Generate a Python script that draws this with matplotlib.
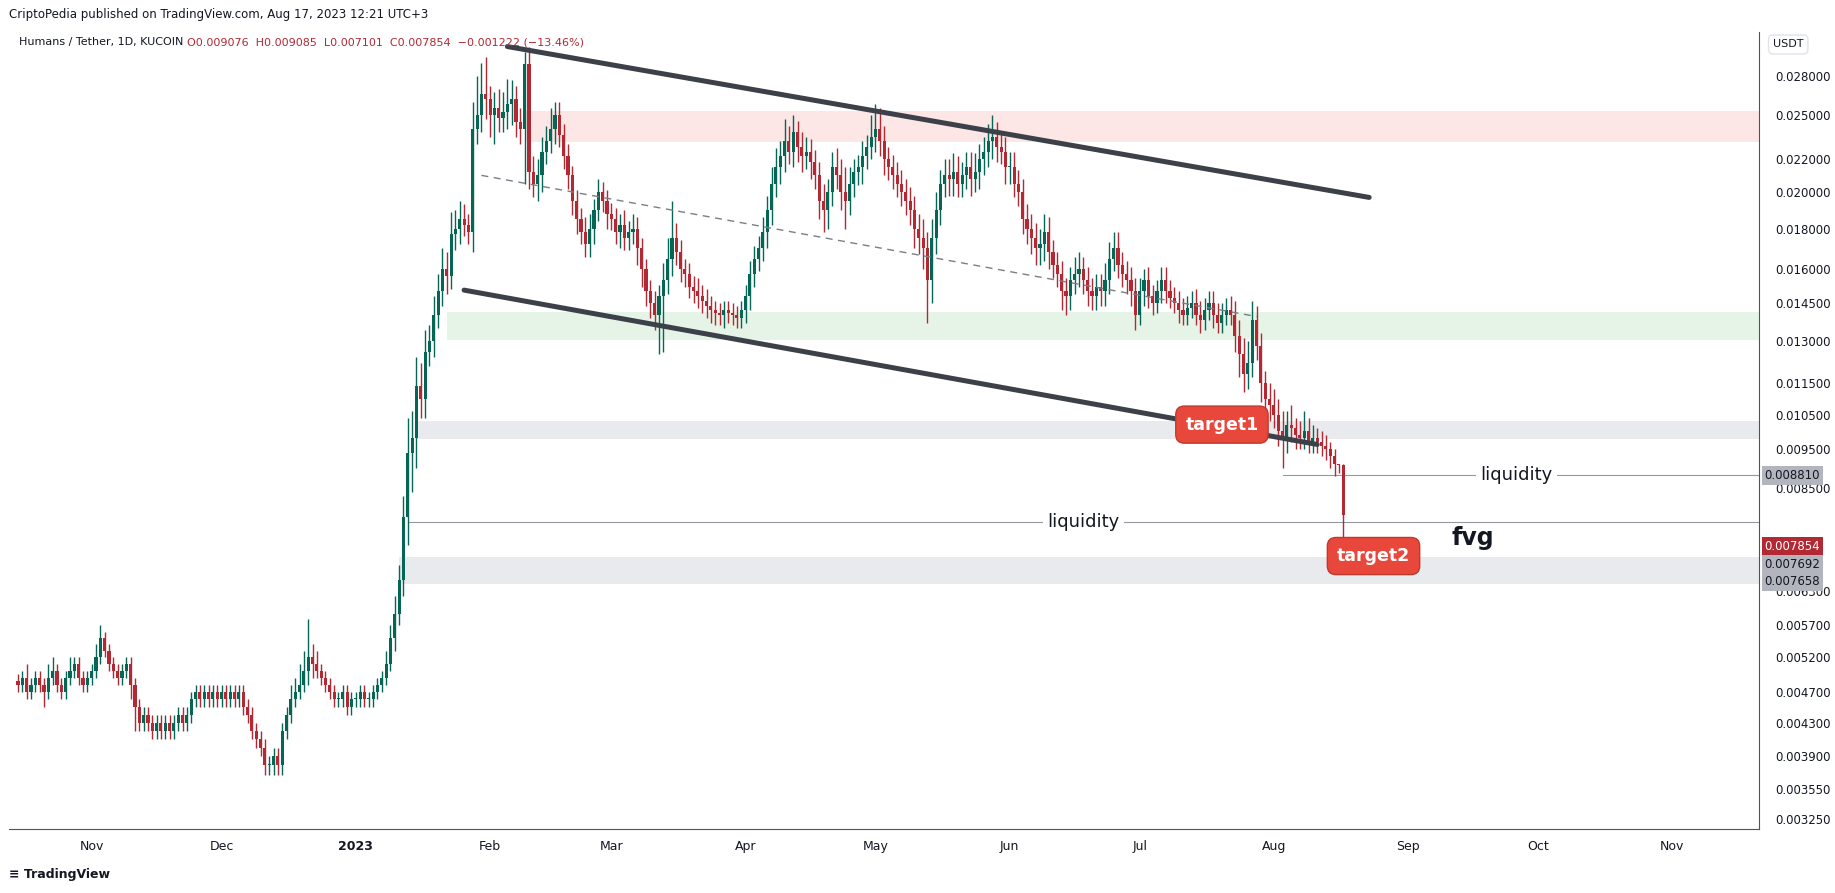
import numpy as np
import pandas as pd
import matplotlib
matplotlib.use("Agg")
import matplotlib.pyplot as plt
import matplotlib.dates as mdates

# daily closes, in units of 1e-4 USDT, one list per month
close_months = [
    [48, 49, 47, 48, 49, 48, 47, 49, 50, 48, 47, 49, 50, 51, 49, 48, 49],
    [50, 52, 55, 53, 51, 50, 49, 50, 51, 48, 45, 43, 44, 43, 42, 43, 42, 43, 42, 43, 44, 43, 44, 46, 47, 46, 47, 46, 47, 46],
    [47, 46, 47, 46, 47, 45, 44, 42, 41, 40, 38, 38, 39, 38, 42, 44, 46, 47, 48, 50, 52, 51, 50, 49, 48, 47, 46, 46, 47, 45, 46],
    [46, 47, 46, 46, 47, 48, 49, 51, 55, 59, 65, 78, 94, 98, 114, 110, 126, 130, 140, 150, 160, 157, 177, 180, 185, 182, 178, 240, 250, 266, 262],
    [250, 255, 248, 252, 258, 262, 245, 240, 290, 212, 205, 210, 225, 232, 240, 250, 236, 222, 210, 195, 185, 178, 172, 180, 190, 200, 195, 188],
    [185, 178, 182, 175, 178, 180, 170, 160, 150, 145, 140, 148, 155, 165, 175, 168, 160, 158, 152, 150, 148, 146, 144, 142, 141, 140, 142, 141, 140, 139, 142],
    [148, 158, 165, 170, 178, 190, 205, 215, 222, 232, 225, 238, 228, 222, 225, 218, 210, 195, 190, 200, 215, 210, 200, 195, 205, 212, 215, 222, 228, 235],
    [240, 232, 220, 215, 210, 205, 200, 195, 190, 180, 175, 170, 155, 175, 190, 205, 210, 208, 212, 205, 210, 215, 208, 212, 220, 225, 232, 235, 228, 225, 215],
    [215, 205, 200, 185, 180, 175, 170, 172, 178, 168, 162, 158, 150, 148, 155, 158, 160, 155, 150, 148, 152, 150, 155, 165, 170, 162, 158, 155, 150, 140],
    [150, 155, 148, 145, 150, 155, 150, 147, 145, 142, 140, 143, 145, 140, 138, 142, 145, 140, 137, 140, 142, 140, 132, 125, 118, 122, 138, 128, 115, 110, 108],
    [105, 100, 98, 102, 101, 99, 98, 100, 97, 98, 97, 96, 95, 93, 91, 90.76, 78.54],
]
wick_up_months = [
    [1, 1, 2, 1, 1, 1, 1, 2, 2, 1, 1, 1, 2, 1, 1, 1, 1],
    [1, 2, 2, 1, 1, 1, 1, 1, 1, 1, 1, 1, 1, 1, 1, 1, 1, 1, 1, 1, 1, 1, 1, 1, 1, 1, 1, 1, 1, 1],
    [1, 1, 1, 1, 1, 1, 1, 1, 1, 1, 1, 1, 1, 1, 1, 1, 2, 2, 3, 3, 6, 2, 2, 1, 1, 1, 1, 1, 1, 1, 1],
    [1, 1, 1, 1, 1, 1, 1, 2, 2, 3, 3, 5, 10, 8, 10, 8, 8, 6, 8, 8, 10, 8, 12, 10, 10, 8, 6, 20, 30, 25, 30],
    [10, 12, 15, 15, 20, 15, 10, 10, 10, 15, 10, 10, 10, 10, 15, 10, 10, 8, 8, 6, 6, 6, 8, 8, 6, 8, 6, 6],
    [6, 6, 6, 8, 6, 8, 6, 5, 5, 5, 5, 5, 8, 10, 20, 8, 6, 5, 5, 5, 6, 5, 5, 4, 4, 4, 4, 4, 4, 4, 4],
    [5, 6, 6, 6, 8, 8, 10, 12, 10, 15, 10, 12, 8, 10, 10, 8, 8, 8, 10, 8, 10, 12, 10, 15, 10, 8, 8, 10, 8, 15],
    [18, 15, 10, 8, 8, 8, 8, 8, 8, 8, 8, 10, 8, 10, 10, 8, 10, 10, 12, 10, 8, 10, 10, 12, 10, 10, 12, 15, 10, 10, 10],
    [10, 10, 8, 8, 8, 8, 8, 8, 10, 8, 6, 6, 6, 6, 6, 8, 8, 6, 6, 6, 6, 6, 8, 8, 8, 8, 6, 6, 6, 6],
    [6, 5, 6, 5, 5, 6, 6, 5, 5, 5, 5, 5, 5, 6, 6, 5, 5, 5, 5, 5, 5, 6, 6, 6, 6, 8, 8, 6, 5, 4, 5],
    [5, 5, 6, 4, 6, 3, 4, 6, 4, 4, 3, 3, 3, 2, 2, 0.1, 0.2],
]
wick_dn_months = [
    [1, 1, 1, 1, 1, 1, 2, 1, 1, 1, 1, 1, 1, 1, 1, 1, 1],
    [1, 1, 1, 1, 1, 1, 1, 1, 1, 2, 3, 1, 1, 1, 1, 1, 1, 1, 1, 1, 1, 1, 1, 1, 1, 1, 1, 1, 1, 1],
    [1, 1, 1, 1, 1, 1, 1, 1, 1, 1, 1, 1, 1, 1, 1, 1, 1, 1, 1, 1, 2, 2, 1, 1, 1, 1, 1, 1, 1, 1, 1],
    [1, 1, 1, 1, 1, 1, 1, 1, 1, 2, 2, 3, 6, 10, 8, 6, 6, 5, 6, 5, 6, 8, 6, 8, 8, 6, 6, 10, 10, 12, 15],
    [15, 20, 10, 10, 12, 15, 10, 10, 35, 10, 8, 10, 10, 8, 8, 10, 8, 8, 8, 8, 8, 6, 6, 6, 8, 6, 6, 8],
    [6, 6, 8, 6, 6, 6, 8, 8, 6, 6, 6, 15, 22, 6, 8, 6, 6, 6, 5, 5, 5, 5, 5, 5, 5, 4, 5, 4, 4, 4, 4],
    [5, 6, 6, 6, 6, 8, 8, 8, 10, 10, 8, 10, 10, 10, 8, 10, 8, 10, 12, 10, 8, 8, 10, 15, 8, 8, 8, 10, 8, 8],
    [10, 10, 10, 8, 8, 8, 8, 8, 8, 10, 8, 10, 18, 10, 8, 8, 8, 10, 10, 8, 8, 8, 10, 8, 10, 10, 10, 12, 10, 8, 10],
    [10, 8, 8, 8, 8, 8, 8, 8, 8, 8, 6, 6, 8, 8, 6, 6, 6, 6, 6, 6, 6, 6, 6, 6, 6, 6, 6, 6, 6, 6],
    [4, 6, 5, 5, 4, 5, 5, 4, 4, 5, 4, 4, 4, 4, 5, 4, 4, 5, 4, 4, 4, 4, 6, 8, 6, 5, 5, 5, 6, 6, 5],
    [4, 4, 8, 4, 4, 4, 3, 3, 3, 3, 3, 3, 3, 3, 3, 2, 7.3],
]
start_date = "2022-10-15"
first_open = 48.5

price_ticks = [0.028, 0.025, 0.022, 0.020, 0.018, 0.016, 0.0145, 0.013, 0.0115, 0.0105,
               0.0095, 0.0085, 0.0076, 0.0069, 0.0063, 0.0057, 0.0052, 0.0047, 0.0043,
               0.0039, 0.00355, 0.00325]
hidden_ticks = [0.0076, 0.0069]

zones = [  # (start, low, high, colour)
    ("2023-02-09", 0.02316, 0.0253, "#fce6e6"),
    ("2023-01-22", 0.01303, 0.01414, "#e6f4e8"),
    ("2023-01-15", 0.00979, 0.0103, "#e9eaee"),
    ("2023-01-11", 0.00643, 0.00696, "#e9eaee"),
]
chan_upper = (("2023-02-05", 0.0305), ("2023-08-23", 0.0197))
chan_lower = (("2023-01-26", 0.01506), ("2023-08-11", 0.00963))
chan_mid = (("2023-01-30", 0.0210), ("2023-07-28", 0.01395))
liq_lines = [("2023-08-03", 0.00881, "2023-09-26"), ("2023-01-13", 0.00769, "2023-06-18")]

scale = 1e-4
closes = np.array(sum(close_months, [])) * scale
up = np.array(sum(wick_up_months, [])) * scale
dn = np.array(sum(wick_dn_months, [])) * scale
n = min(len(closes), len(up), len(dn))
closes, up, dn = closes[:n], up[:n], dn[:n]
dates = pd.date_range(start_date, periods=n, freq="D")
x = mdates.date2num(dates)
opens = np.concatenate([[first_open * scale], closes[:-1]])
highs = np.maximum(opens, closes) + up
lows = np.minimum(opens, closes) - dn

UP, DOWN = "#056656", "#b22833"
fig = plt.figure(figsize=(18.35, 8.93), dpi=100)
W, H = 1568, 763
ax = fig.add_axes([8 / W, 1 - 708 / H, (1503 - 8) / W, (708 - 27) / H])
ax.set_yscale("log")

for d0, lo, hi, col in zones:
    ax.fill_between([mdates.datestr2num(d0), mdates.datestr2num("2024-01-01")], lo, hi,
                    color=col, lw=0, zorder=0)

cols = np.where(closes >= opens, UP, DOWN)
ax.vlines(x, lows, highs, colors=cols, lw=1.0, zorder=2)
bot = np.minimum(opens, closes)
hgt = np.maximum(np.abs(closes - opens), closes * 0.003)
ax.bar(x, hgt, bottom=bot, width=0.72, color=cols, lw=0, zorder=3)

for (a, pa), (b, pb) in (chan_upper, chan_lower):
    ax.plot([mdates.datestr2num(a), mdates.datestr2num(b)], [pa, pb], color="#3b4049",
            lw=3.6, solid_capstyle="round", zorder=4)
(a, pa), (b, pb) = chan_mid
ax.plot([mdates.datestr2num(a), mdates.datestr2num(b)], [pa, pb], color="#7a7e86",
        lw=1, ls=(0, (5, 4)), zorder=4)

for d0, p, dtxt in liq_lines:
    ax.plot([mdates.datestr2num(d0), mdates.datestr2num("2024-01-01")], [p, p],
            color="#9598a1", lw=0.8, zorder=1)
    ax.text(mdates.datestr2num(dtxt), p, "liquidity", fontsize=13, ha="center",
            va="center", color="#131722", zorder=5,
            bbox=dict(fc="white", ec="none", pad=3))

for d, p, txt in [("2023-07-20", 0.0102, "target1"), ("2023-08-24", 0.00697, "target2")]:
    ax.text(mdates.datestr2num(d), p, txt, fontsize=12.5, fontweight="bold", color="white",
            ha="center", va="center", zorder=6,
            bbox=dict(boxstyle="round,pad=0.55,rounding_size=0.5", fc="#e8483b", ec="#c0392b"))
ax.text(mdates.datestr2num("2023-09-16"), 0.00735, "fvg", fontsize=17, fontweight="bold",
        color="#131722", ha="center", va="center", zorder=6)

ax.set_xlim(mdates.datestr2num("2022-10-13"), mdates.datestr2num("2023-11-21"))
ax.set_ylim(0.003164, 0.03185)
ax.yaxis.tick_right()
ax.set_yticks(price_ticks)
ax.set_yticklabels(["" if t in hidden_ticks else f"{t:.6f}" for t in price_ticks])
ax.yaxis.set_minor_locator(matplotlib.ticker.NullLocator())
ax.tick_params(axis="y", length=0, labelsize=8.5, labelcolor="#131722", pad=12)

months = pd.date_range("2022-11-01", "2023-11-01", freq="MS")
ax.set_xticks(mdates.date2num(months))
ax.set_xticklabels(["2023" if m.month == 1 else m.strftime("%b") for m in months])
ax.tick_params(axis="x", length=0, labelsize=9, labelcolor="#131722", pad=8)
for lab in ax.get_xticklabels():
    if lab.get_text() == "2023":
        lab.set_fontweight("bold")
for s in ["top", "left"]:
    ax.spines[s].set_visible(False)
ax.spines["right"].set_color("#50535e")
ax.spines["bottom"].set_color("#50535e")


# price labels on the right scale
def axis_label(p, txt, fc, tc="#131722"):
    ax.annotate(txt, xy=(1.0, p), xycoords=("axes fraction", "data"), xytext=(4, 0),
                textcoords="offset points", fontsize=8.5, color=tc, va="center",
                annotation_clip=False,
                bbox=dict(boxstyle="square,pad=0.25", fc=fc, ec="none"))


axis_label(0.00881, "0.008810", "#b2b5be")
axis_label(0.00717, "0.007854", "#b22833", "white")
axis_label(0.00681, "0.007692", "#b2b5be")
axis_label(0.00647, "0.007658", "#b2b5be")

fig.text(8 / W, 1 - 12 / H, "CriptoPedia published on TradingView.com, Aug 17, 2023 12:21 UTC+3",
         fontsize=8.5, color="#131722", va="center")
fig.text(16 / W, 1 - 36 / H, "Humans / Tether, 1D, KUCOIN", fontsize=8, color="#131722", va="center")
fig.text(160 / W, 1 - 36 / H, "O0.009076  H0.009085  L0.007101  C0.007854  \u22120.001222 (\u221213.46%)",
         fontsize=8, color="#b22833", va="center")
fig.text(1515 / W, 1 - 38 / H, "USDT", fontsize=8, color="#131722", va="center",
         bbox=dict(boxstyle="round,pad=0.4", fc="white", ec="#e0e3eb"))
fig.text(8 / W, 1 - 747 / H, "\u2261 TradingView", fontsize=9, color="#131722", va="center",
         fontweight="bold")

fig.savefig("out.png", dpi=100)
